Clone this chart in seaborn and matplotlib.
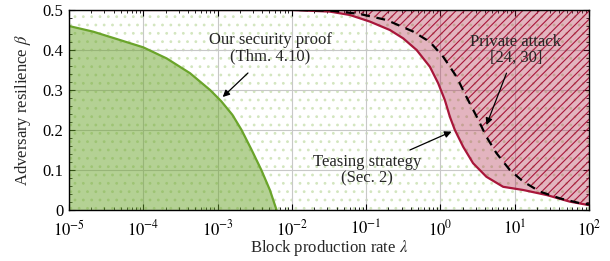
import matplotlib
matplotlib.use("Agg")
import matplotlib.pyplot as plt
from matplotlib.ticker import LogLocator, MultipleLocator, NullFormatter
import numpy as np
import pandas as pd
import seaborn as sns

# curves (x = log10 of lambda)
green_logx = [-5.0, -4.673, -4.314, -4.0, -3.685, -3.37, -3.10, -2.95, -2.80, -2.676,
              -2.54, -2.41, -2.295, -2.205]
green_y = [0.46, 0.4458, 0.425, 0.4067, 0.379, 0.342, 0.30, 0.272, 0.238, 0.2,
           0.15, 0.1, 0.05, 0.0]

teasing_logx = [-4.7, -2.0, -1.487, -1.218, -0.949, -0.68, -0.50, -0.32, -0.141, -0.03,
                0.06, 0.128, 0.195, 0.307, 0.44, 0.62, 0.845, 1.115, 1.43, 1.74, 1.99]
teasing_y = [0.5, 0.5, 0.496, 0.4875, 0.471, 0.45, 0.429, 0.40, 0.358, 0.317,
             0.275, 0.233, 0.2, 0.158, 0.117, 0.083, 0.058, 0.05, 0.0375, 0.021, 0.0125]

private_logx = [-1.9, -1.45, -1.083, -0.724, -0.366, -0.14, 0.038, 0.218, 0.35, 0.49,
                0.62, 0.755, 0.935, 1.115, 1.34, 1.61, 1.88, 2.0]
private_y = [0.5, 0.498, 0.49, 0.475, 0.446, 0.42, 0.383, 0.333, 0.283, 0.233,
             0.183, 0.142, 0.1, 0.071, 0.046, 0.029, 0.017, 0.014]

x_tick_exps = [-5, -4, -3, -2, -1, 0, 1, 2]
y_ticks = [0, 0.1, 0.2, 0.3, 0.4, 0.5]
y_tick_labels = ["0", "0.1", "0.2", "0.3", "0.4", "0.5"]

GREEN = "#6aa42a"
RED = "#a8163a"
DOTS = "#d3e6bf"

sns.set_theme(style="ticks")
plt.rcParams["font.family"] = ["Liberation Serif", "DejaVu Serif"]
plt.rcParams["mathtext.fontset"] = "stix"
plt.rcParams["hatch.linewidth"] = 0.8

green = pd.DataFrame({"lam": np.power(10.0, green_logx), "beta": green_y})
teasing = pd.DataFrame({"lam": np.power(10.0, teasing_logx), "beta": teasing_y})
private = pd.DataFrame({"lam": np.power(10.0, private_logx), "beta": private_y})

fig = plt.figure(figsize=(6.1, 2.61), dpi=100)
ax = fig.add_axes([0.113, 0.1954, 0.8525, 0.7663])
ax.set_xscale("log")

# dotted background
ax.axhspan(0, 0.5, facecolor="none", edgecolor=DOTS, hatch="..", lw=0, zorder=0)
ax.grid(True, which="major", color="#c8c8c8", lw=0.8, zorder=0.5)
ax.set_axisbelow(True)

# fills
ax.fill_between(green["lam"], 0, green["beta"], color=GREEN, alpha=0.5, lw=0, zorder=1)
ax.fill_between(teasing["lam"], teasing["beta"], 0.5, color=RED, alpha=0.32, lw=0, zorder=1)
ax.fill_between(private["lam"], private["beta"], 0.5, facecolor="none", edgecolor=RED,
                hatch="////", lw=0, zorder=1.5)

sns.lineplot(data=green, x="lam", y="beta", ax=ax, color=GREEN, lw=1.6, sort=False, zorder=3)
sns.lineplot(data=teasing, x="lam", y="beta", ax=ax, color=RED, lw=1.6, sort=False, zorder=3)
sns.lineplot(data=private, x="lam", y="beta", ax=ax, color="black", lw=1.6, sort=False,
             zorder=3, linestyle=(0, (4, 3)))

ax.set_xlim(1e-5, 1e2)
ax.set_ylim(0, 0.5)
ax.set_xticks([10.0**e for e in x_tick_exps], [rf"$10^{{{e}}}$" for e in x_tick_exps])
ax.xaxis.set_minor_locator(LogLocator(base=10, subs=np.arange(2, 10), numticks=100))
ax.xaxis.set_minor_formatter(NullFormatter())
ax.yaxis.set_minor_locator(MultipleLocator(0.02))
ax.set_yticks(y_ticks, y_tick_labels)
ax.tick_params(which="both", direction="in", top=True, right=True, labelsize=12, colors="black")
ax.tick_params(which="major", length=4, width=0.8)
ax.tick_params(which="minor", length=2.5, width=0.6)
ax.tick_params(axis="x", which="major", pad=7)
ax.tick_params(axis="y", which="major", pad=4)
for s in ax.spines.values():
    s.set_color("black")
    s.set_linewidth(1.0)
    s.set_zorder(4)

ax.set_xlabel(r"Block production rate $\lambda$", fontsize=12, labelpad=-1)
ax.set_ylabel(r"Adversary resilience $\beta$", fontsize=12, labelpad=7)

arrow = dict(arrowstyle="-|>", color="black", lw=0.9, mutation_scale=10, shrinkA=0, shrinkB=0)
ax.annotate("Our security proof\n(Thm. 4.10)", xy=(10**-2.29, 0.404), ha="center", va="center",
            fontsize=12, linespacing=1.0, zorder=5)
ax.annotate("", xy=(10**-2.93, 0.2825), xytext=(10**-2.59, 0.3425), arrowprops=arrow)
ax.annotate("Private attack\n[24, 30]", xy=(10**1.016, 0.40), ha="center", va="center",
            fontsize=12, linespacing=1.0, zorder=5)
ax.annotate("", xy=(10**0.62, 0.2125), xytext=(10**0.89, 0.342), arrowprops=arrow)
ax.annotate("Teasing strategy\n(Sec. 2)", xy=(10**-0.99, 0.099), ha="center", va="center",
            fontsize=12, linespacing=1.0, zorder=5)
ax.annotate("", xy=(10**0.15, 0.196), xytext=(10**-0.41, 0.15), arrowprops=arrow)

fig.savefig("out.png", dpi=100)
